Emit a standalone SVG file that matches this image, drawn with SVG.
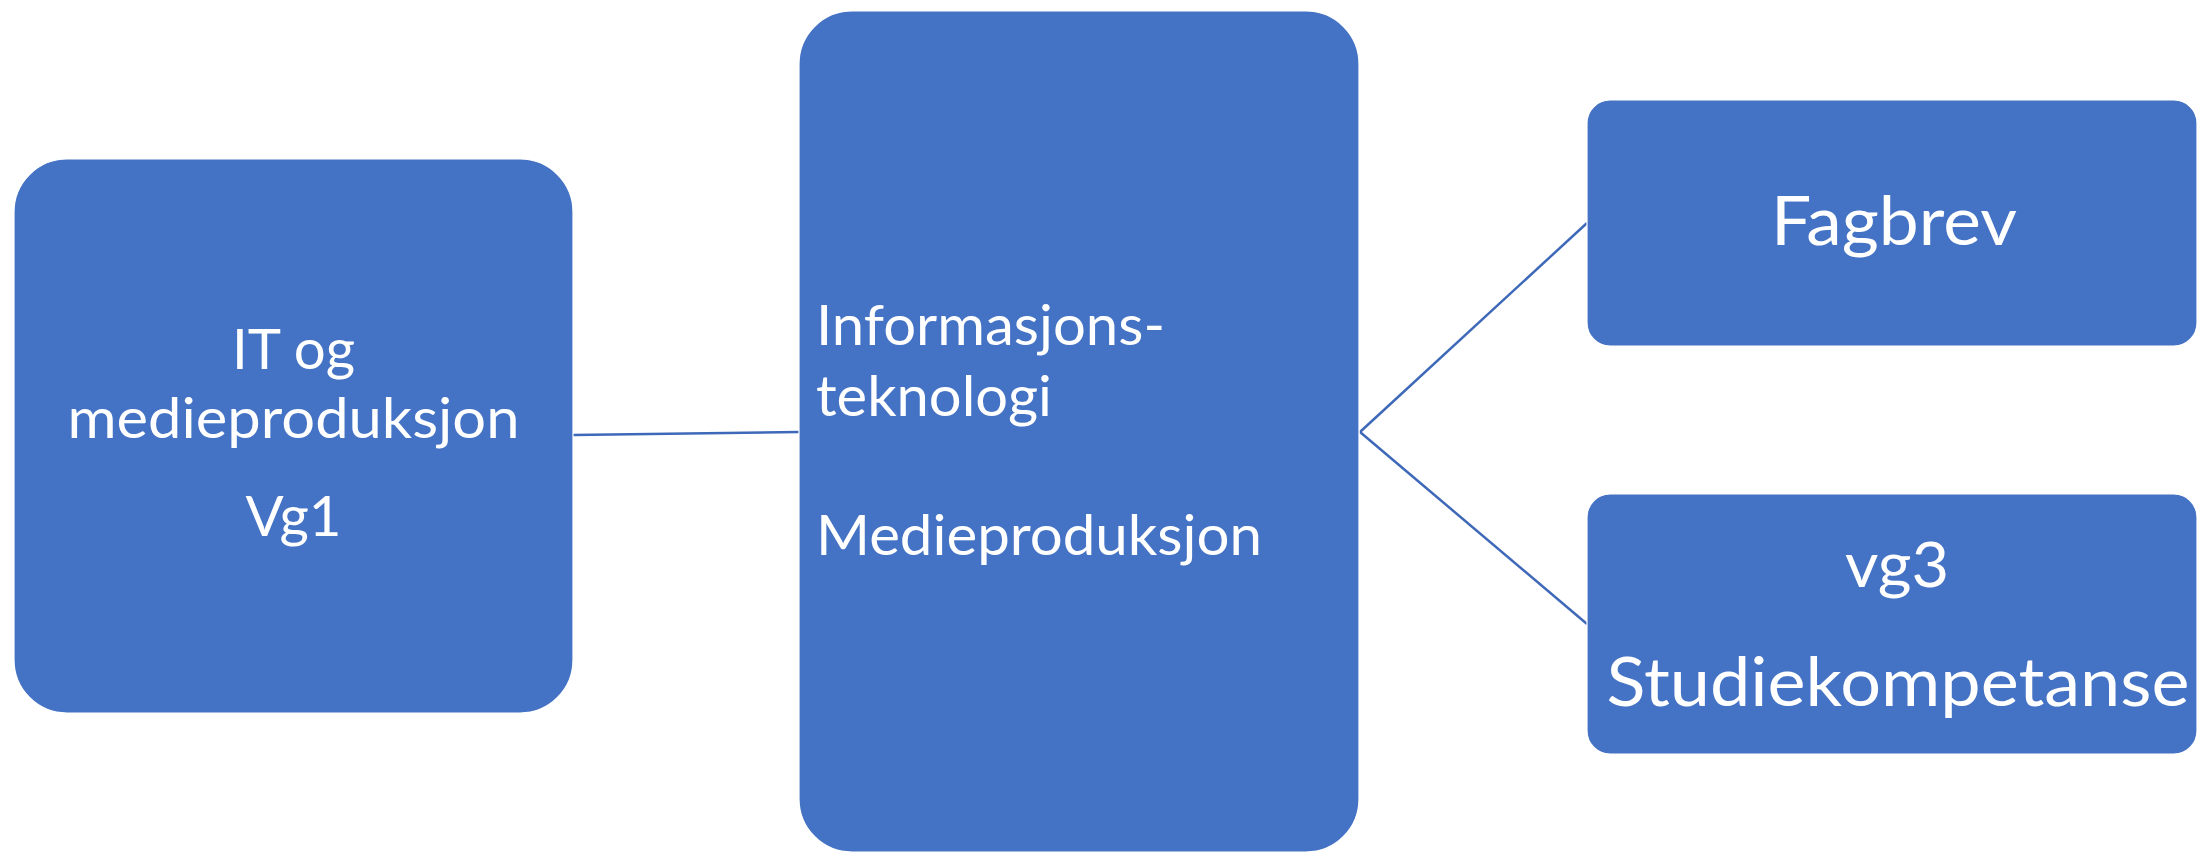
<svg xmlns="http://www.w3.org/2000/svg" width="2200" height="852" viewBox="0 0 2200 852">
<style>
.box{fill:#4472C4;stroke:#ffffff;stroke-width:1.2}
.t{font-family:Lato,"Open Sans","Liberation Sans",sans-serif;fill:#ffffff;lengthAdjust:spacingAndGlyphs}
.c{text-anchor:middle}
.conn{stroke:#3E68B8;stroke-width:2.5;fill:none}
</style>
<rect width="2200" height="852" fill="#ffffff"/>
<g id="connectors">
<line class="conn" x1="573" y1="435" x2="799" y2="432"/>
<line class="conn" x1="1360" y1="432" x2="1587" y2="223"/>
<line class="conn" x1="1360" y1="432" x2="1587" y2="624"/>
</g>
<g id="node-vg1">
<rect class="box" x="14" y="159" width="559" height="554" rx="53" ry="53"/>
<text class="t c" x="293.5" y="369" font-size="57" textLength="123" lengthAdjust="spacingAndGlyphs">IT og</text>
<text class="t c" x="293.5" y="438" font-size="57" textLength="452" lengthAdjust="spacingAndGlyphs">medieproduksjon</text>
<text class="t c" x="293.5" y="536" font-size="57" textLength="96" lengthAdjust="spacingAndGlyphs">Vg1</text>
</g>
<g id="node-vg2">
<rect class="box" x="799" y="11" width="560" height="841" rx="53" ry="53"/>
<text class="t" x="816" y="345" font-size="57" textLength="349" lengthAdjust="spacingAndGlyphs">Informasjons-</text>
<text class="t" x="816" y="416" font-size="57" textLength="236" lengthAdjust="spacingAndGlyphs">teknologi</text>
<text class="t" x="816" y="555" font-size="57" textLength="446" lengthAdjust="spacingAndGlyphs">Medieproduksjon</text>
</g>
<g id="node-fagbrev">
<rect class="box" x="1587" y="100" width="610" height="246" rx="23" ry="23"/>
<text class="t c" x="1894" y="245" font-size="68" textLength="246" lengthAdjust="spacingAndGlyphs">Fagbrev</text>
</g>
<g id="node-studie">
<rect class="box" x="1587" y="494" width="610" height="260" rx="23" ry="23"/>
<text class="t c" x="1897" y="587" font-size="62" textLength="104" lengthAdjust="spacingAndGlyphs">vg3</text>
<text class="t c" x="1898" y="706" font-size="68" textLength="583" lengthAdjust="spacingAndGlyphs">Studiekompetanse</text>
</g>
</svg>
